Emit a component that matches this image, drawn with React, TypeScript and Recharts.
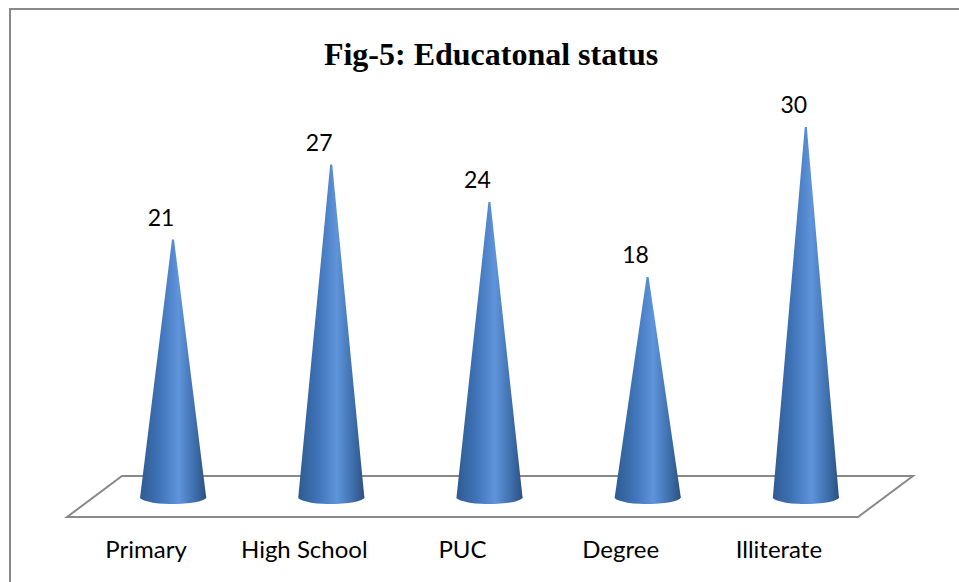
import React from 'react';
import { BarChart, Bar, XAxis, YAxis, LabelList, ReferenceArea } from 'recharts';

const categories = ['Primary', 'High School', 'PUC', 'Degree', 'Illiterate'];
const counts = [21, 27, 24, 18, 30];
const chartData = categories.map((name, i) => ({ name, value: counts[i] }));

const Cone = (props: any) => {
  const { x, y, width, height } = props;
  const cx = x + width / 2;
  const rx = 33;
  const ry = 7;
  const baseY = y + height - 5;
  return (
    <g>
      <path
        d={`M${cx - 1},${y} L${cx + 1},${y} L${cx + rx},${baseY - 1} A${rx},${ry} 0 0 1 ${cx - rx},${baseY + 1} Z`}
        fill="url(#coneFill)"
      />
    </g>
  );
};

const Floor = (props: any) => {
  const { x, y, width, height } = props;
  const left = x - 27;
  const right = x + width - 27;
  const skew = 55;
  return (
    <path
      d={`M${left},${y + height} L${right},${y + height} L${right + skew},${y} L${left + skew},${y} Z`}
      fill="#fff"
      stroke="#898989"
      strokeWidth={2}
    />
  );
};

const ValueLabel = (props: any) => {
  const { x, y, width, value } = props;
  return (
    <text x={x + width / 2 - 12} y={y - 14} textAnchor="middle" fontFamily="Lato" fontSize={23} fill="#000">
      {value}
    </text>
  );
};

const CategoryTick = (props: any) => {
  const { x, y, payload } = props;
  return (
    <text x={x - 27} y={y + 33} textAnchor="middle" fontFamily="Lato" fontSize={24} fill="#000">
      {payload.value}
    </text>
  );
};

export default function App() {
  return (
    <div style={{ position: 'absolute', left: 0, top: 0, width: 959, height: 582, background: '#fff', overflow: 'hidden' }}>
      <div
        style={{
          position: 'absolute',
          left: 9,
          top: 8,
          width: 1000,
          height: 640,
          border: '2px solid #898989',
          boxSizing: 'border-box',
        }}
      />
      <div
        style={{
          position: 'absolute',
          left: 0,
          top: 35,
          width: 982,
          textAlign: 'center',
          fontFamily: '"Liberation Serif"',
          fontWeight: 'bold',
          fontSize: 32,
          lineHeight: '38px',
          color: '#000',
        }}
      >
        Fig-5: Educatonal status
      </div>
      <BarChart
        width={959}
        height={582}
        data={chartData}
        margin={{ left: 94, right: 74, top: 127, bottom: 0 }}
        barCategoryGap={46}
        style={{ position: 'absolute', left: 0, top: 0 }}
      >
        <defs>
          <linearGradient id="coneFill" x1="0" y1="0" x2="1" y2="0">
            <stop offset="0%" stopColor="#2f5a92" />
            <stop offset="30%" stopColor="#3f74b8" />
            <stop offset="58%" stopColor="#5f94db" />
            <stop offset="82%" stopColor="#3f70ae" />
            <stop offset="100%" stopColor="#2c507f" />
          </linearGradient>
        </defs>
        <XAxis
          dataKey="name"
          axisLine={false}
          tickLine={false}
          height={65}
          interval={0}
          tick={<CategoryTick />}
        />
        <YAxis hide domain={[-1.2, 30]} />
        <ReferenceArea x1="Primary" x2="Illiterate" y1={-1.2} y2={2.08} shape={<Floor />} ifOverflow="visible" />
        <Bar dataKey="value" shape={<Cone />} isAnimationActive={false}>
          <LabelList dataKey="value" content={<ValueLabel />} />
        </Bar>
      </BarChart>
    </div>
  );
}
